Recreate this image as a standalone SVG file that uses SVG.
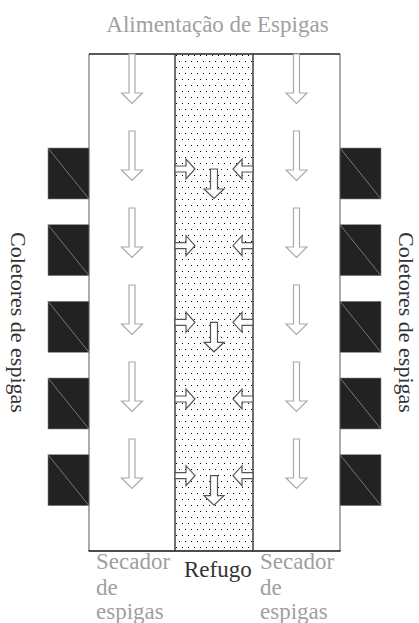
<svg xmlns="http://www.w3.org/2000/svg" xmlns:xlink="http://www.w3.org/1999/xlink" width="419" height="623" viewBox="0 0 419 623">
<style>
  text { font-family: "Liberation Serif", "Times New Roman", serif; font-size: 23px; }
  .side { font-size: 22px; }
  .lt { fill: #a0a0a0; }
  .dk { fill: #333333; }
  .box { fill: #222222; stroke: #888888; stroke-width: 0.6; }
  .diag { stroke: #777777; stroke-width: 1; }
  .garrow { fill: #ffffff; stroke: #aaaaaa; stroke-width: 1.2; }
  .marrow { fill: #ffffff; stroke: #555555; stroke-width: 1.2; }
</style>
<defs>
  <pattern id="dots" x="179" y="61" width="6" height="12" patternUnits="userSpaceOnUse">
    <rect x="0" y="0" width="1" height="1" fill="#000000"/>
    <rect x="3" y="6" width="1" height="1" fill="#000000"/>
  </pattern>
  <path id="dArrow" class="garrow" d="M-3,0 H3 V39 H10.5 L0,49.5 L-10.5,39 H-3 Z"/>
  <path id="mDown" class="marrow" d="M-3.5,0 H3.5 V20 H10 L0,29.5 L-10,20 H-3.5 Z"/>
  <path id="rArrow" class="marrow" d="M0,-3 H11 V-10 L20,0 L11,10 V3 H0 Z"/>
  <path id="lArrow" class="marrow" d="M0,-3 H-11 V-10 L-20,0 L-11,10 V3 H0 Z"/>
  <g id="collector">
    <rect class="box" x="0" y="0" width="41" height="51"/>
    <line class="diag" x1="0" y1="0" x2="41" y2="51"/>
  </g>
</defs>

<text id="title" class="lt" x="217.5" y="32" text-anchor="middle">Alimentação de Espigas</text>

<g id="dryer-left">
  <rect x="89" y="54" width="86" height="497" fill="#ffffff"/>
</g>
<g id="dryer-right">
  <rect x="253" y="54" width="87" height="497" fill="#ffffff"/>
</g>
<g id="refugo-band">
  <rect x="175" y="54" width="78" height="497" fill="#ffffff"/>
  <rect x="175" y="54" width="78" height="497" fill="url(#dots)"/>
</g>

<g id="borders">
  <line x1="89" y1="54" x2="89" y2="551" stroke="#888888" stroke-width="1.4"/>
  <line x1="340" y1="54" x2="340" y2="551" stroke="#888888" stroke-width="1.4"/>
  <line x1="89" y1="54" x2="340" y2="54" stroke="#222222" stroke-width="1.4"/>
  <line x1="88.5" y1="551" x2="340.5" y2="551" stroke="#111111" stroke-width="1.6"/>
  <line x1="175" y1="54" x2="175" y2="551" stroke="#333333" stroke-width="1.4"/>
  <line x1="253" y1="54" x2="253" y2="551" stroke="#333333" stroke-width="1.4"/>
</g>

<g id="collectors-left">
  <use xlink:href="#collector" x="48" y="148"/>
  <use xlink:href="#collector" x="48" y="224.7"/>
  <use xlink:href="#collector" x="48" y="301.3"/>
  <use xlink:href="#collector" x="48" y="378"/>
  <use xlink:href="#collector" x="48" y="454.7"/>
</g>
<g id="collectors-right">
  <use xlink:href="#collector" x="340" y="148"/>
  <use xlink:href="#collector" x="340" y="224.7"/>
  <use xlink:href="#collector" x="340" y="301.3"/>
  <use xlink:href="#collector" x="340" y="378"/>
  <use xlink:href="#collector" x="340" y="454.7"/>
</g>

<g id="connectors">
  <use xlink:href="#dArrow" x="132" y="54"/>
  <use xlink:href="#dArrow" x="132" y="131"/>
  <use xlink:href="#dArrow" x="132" y="208"/>
  <use xlink:href="#dArrow" x="132" y="285"/>
  <use xlink:href="#dArrow" x="132" y="362"/>
  <use xlink:href="#dArrow" x="132" y="439"/>
  <use xlink:href="#dArrow" x="296.5" y="54"/>
  <use xlink:href="#dArrow" x="296.5" y="131"/>
  <use xlink:href="#dArrow" x="296.5" y="208"/>
  <use xlink:href="#dArrow" x="296.5" y="285"/>
  <use xlink:href="#dArrow" x="296.5" y="362"/>
  <use xlink:href="#dArrow" x="296.5" y="439"/>

  <use xlink:href="#rArrow" x="175" y="169"/>
  <use xlink:href="#rArrow" x="175" y="245.7"/>
  <use xlink:href="#rArrow" x="175" y="322.3"/>
  <use xlink:href="#rArrow" x="175" y="399"/>
  <use xlink:href="#rArrow" x="175" y="475.7"/>
  <use xlink:href="#lArrow" x="253" y="169"/>
  <use xlink:href="#lArrow" x="253" y="245.7"/>
  <use xlink:href="#lArrow" x="253" y="322.3"/>
  <use xlink:href="#lArrow" x="253" y="399"/>
  <use xlink:href="#lArrow" x="253" y="475.7"/>

  <use xlink:href="#mDown" x="214" y="169"/>
  <use xlink:href="#mDown" x="214" y="322.3"/>
  <use xlink:href="#mDown" x="214" y="475.7"/>
</g>

<g id="labels">
  <text class="dk side" transform="translate(11,232) rotate(90)">Coletores de espigas</text>
  <text class="dk side" transform="translate(399,232) rotate(90)">Coletores de espigas</text>
  <text class="lt" x="96" y="569">Secador</text>
  <text class="lt" x="96" y="595">de</text>
  <text class="lt" x="96" y="619">espigas</text>
  <text class="dk" x="184" y="577">Refugo</text>
  <text class="lt" x="260" y="569">Secador</text>
  <text class="lt" x="260" y="595">de</text>
  <text class="lt" x="260" y="619">espigas</text>
</g>
</svg>
